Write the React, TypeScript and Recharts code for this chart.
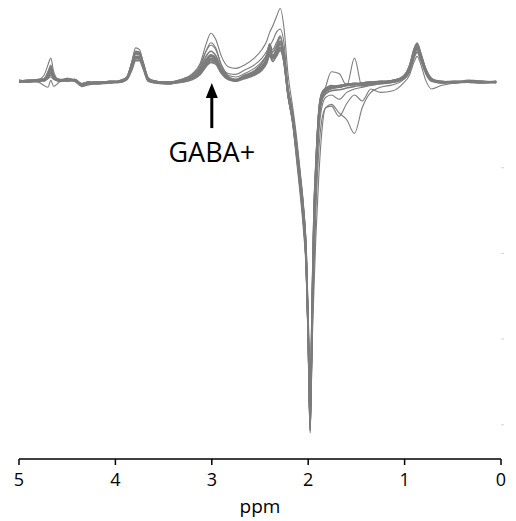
import { LineChart, Line, XAxis, YAxis, ReferenceDot } from 'recharts'

// chemical shift grid (ppm), shared by every spectrum
const PPM = [
  5.0, 4.9, 4.8, 4.74, 4.7, 4.67, 4.64, 4.58, 4.5, 4.42, 4.35, 4.28, 4.18, 4.05, 3.95,
  3.88, 3.83, 3.79, 3.75, 3.71, 3.66, 3.58, 3.45, 3.32, 3.2, 3.12, 3.06, 3.01, 2.96, 2.9,
  2.83, 2.75, 2.66, 2.56, 2.48, 2.43, 2.4, 2.37, 2.33, 2.29, 2.25, 2.21, 2.16, 2.12, 2.08,
  2.05, 2.02, 2.0, 1.98, 1.96, 1.94, 1.92, 1.89, 1.86, 1.82, 1.76, 1.68, 1.6, 1.52, 1.44,
  1.35, 1.25, 1.12, 1.02, 0.95, 0.9, 0.87, 0.83, 0.78, 0.72, 0.62, 0.48, 0.34, 0.2, 0.05,
]

// difference-edited spectra, one per subject (arbitrary units)
const S1 = [
  2, 0, 3, 2, 10, 16, 5, 3, 1, 3, -2, 0, -2, 1, 0,
  4, 17, 33, 32, 17, 2, 1, -2, 2, 6, 14, 26, 32, 28, 12,
  4, 3, 5, 12, 19, 28, 40, 31, 37, 46, 24, -14, -45, -82, -124,
  -160, -212, -295, -398, -270, -155, -98, -35, -14, -8, -4, -6, -2, -3, -1,
  0, -1, 2, 6, 18, 38, 45, 31, 13, 2, 1, -1, 2, 1, -1,
]
const S2 = [
  0, 2, 1, 4, 6, 10, 7, 1, 4, 1, -4, -2, 0, -1, 2,
  6, 20, 29, 28, 20, 4, -1, 0, 0, 4, 11, 21, 27, 24, 15,
  6, 1, 7, 9, 15, 24, 34, 27, 32, 40, 28, -10, -40, -76, -117,
  -150, -203, -282, -405, -283, -165, -106, -41, -18, -10, -7, -4, -4, -1, -3,
  -2, 1, 0, 4, 15, 33, 40, 29, 15, 4, -1, 1, 0, -1, 1,
]
const S3 = [
  1, 2, 2, 2, 9, 14, 8, 2, 2, 3, -3, -2, -1, 0, 0,
  5, 21, 34, 33, 21, 4, 1, -1, 2, 6, 13, 25, 31, 27, 14,
  5, 2, 7, 11, 18, 27, 38, 30, 36, 44, 27, -11, -43, -80, -121,
  -157, -209, -292, -400, -274, -158, -100, -37, -15, -9, -5, -5, -3, -2, -2,
  -1, 0, 1, 5, 17, 36, 43, 30, 14, 3, 0, 0, 1, 0, 0,
]
const S4 = [
  0, 1, 3, 4, 7, 11, 5, 3, 3, 2, -2, 0, -2, 1, 1,
  4, 16, 27, 27, 17, 2, 0, -2, 1, 4, 10, 20, 25, 23, 12,
  4, 2, 5, 9, 16, 25, 35, 28, 33, 41, 25, -13, -44, -81, -122,
  -158, -210, -290, -395, -268, -152, -96, -34, -13, -7, -5, -6, -4, -3, -1,
  0, 0, 2, 5, 14, 32, 38, 28, 13, 3, 1, 0, 0, 1, 0,
]
const S5 = [
  2, 1, 2, 3, 11, 18, 7, 2, 4, 2, -4, -1, 0, 0, 1,
  6, 22, 36, 35, 22, 5, 0, 0, 2, 7, 16, 30, 36, 31, 16,
  6, 3, 8, 13, 22, 32, 44, 35, 42, 52, 30, -8, -38, -74, -115,
  -148, -200, -280, -408, -286, -168, -108, -42, -18, -11, -7, -6, -3, -2, -2,
  -1, 0, 1, 6, 18, 37, 44, 32, 15, 4, 0, 1, 1, 0, 1,
]
const S6 = [
  1, 0, 1, 2, 5, 8, 4, 1, 2, 1, -5, -3, -2, -1, 0,
  3, 14, 25, 25, 15, 1, -1, -2, 0, 3, 9, 18, 23, 21, 10,
  3, 1, 4, 8, 14, 22, 31, 24, 30, 37, 22, -15, -47, -85, -126,
  -162, -215, -298, -390, -262, -150, -95, -40, -22, -14, -10, -9, -7, -5, -4,
  -3, -2, 0, 3, 12, 29, 35, 25, 10, 1, -1, -1, 0, -1, 0,
]
const S7 = [
  1, 2, 2, 3, 8, 12, 6, 2, 3, 3, -3, -1, 0, 0, 1,
  5, 18, 30, 30, 18, 3, 0, -1, 1, 5, 12, 24, 30, 26, 13,
  5, 2, 6, 10, 17, 27, 42, 30, 38, 48, 22, -15, -46, -84, -125,
  -161, -214, -296, -406, -280, -162, -104, -36, -14, -8, -6, -4, -3, -2, -1,
  0, 1, 1, 5, 16, 34, 41, 30, 14, 3, 0, 0, 1, 0, 0,
]
const S8 = [
  1, 2, 3, 8, 20, 28, 12, 2, 3, 2, -2, 0, 0, 1, 1,
  6, 24, 40, 38, 22, 4, 1, 0, 3, 10, 22, 44, 57, 50, 30,
  18, 16, 20, 28, 38, 48, 58, 65, 76, 86, 62, 10, -30, -65, -108,
  -142, -195, -275, -395, -288, -175, -115, -50, -22, -12, -8, -6, -4, -2, -2,
  -1, 0, 2, 6, 20, 40, 46, 34, 16, 4, 0, 0, 1, 0, 0,
]
const S9 = [
  0, 1, 2, 1, 4, 6, 3, 1, 2, 2, -3, -2, -1, 0, 1,
  4, 20, 34, 34, 20, 3, 1, 0, 2, 8, 18, 36, 46, 40, 20,
  10, 9, 14, 20, 28, 36, 42, 48, 58, 62, 44, -5, -38, -72, -112,
  -146, -200, -284, -385, -300, -220, -150, -80, -45, -30, -26, -36, -44, -60, -30,
  -12, -6, -3, 2, 12, 30, 38, 26, 10, 2, -1, 0, 0, 1, 0,
]
const S10 = [
  1, 1, 2, 3, 7, 10, 6, 2, 3, 2, -2, -1, -1, 0, 1,
  5, 18, 29, 29, 18, 3, 0, -1, 1, 5, 12, 22, 28, 25, 13,
  4, 2, 6, 10, 17, 25, 34, 28, 33, 40, 24, -14, -48, -88, -130,
  -165, -220, -300, -392, -290, -190, -130, -50, -20, -6, 12, 10, -4, 28, -6,
  -2, -1, 0, 4, 14, 32, 40, 28, 12, 2, 0, 0, 1, 0, 0,
]
const S11 = [
  0, 1, 0, -4, -6, 2, -5, 0, 2, 1, -4, -2, -1, 0, 1,
  4, 16, 28, 27, 16, 2, 0, -2, 0, 4, 10, 20, 26, 23, 11,
  3, 1, 5, 9, 16, 24, 33, 27, 32, 38, 22, -16, -50, -92, -135,
  -172, -225, -305, -380, -310, -240, -180, -110, -60, -30, -28, -40, -25, -15, -22,
  -8, -12, -10, -2, 8, 24, 30, 20, 2, -8, -4, -1, 0, 0, 0,
]
const S12 = [
  2, 1, 2, 4, 12, 20, 8, 2, 3, 2, -2, 0, -1, 0, 1,
  6, 23, 35, 34, 21, 4, 1, 0, 3, 9, 20, 36, 43, 38, 20,
  8, 6, 10, 16, 24, 33, 45, 38, 46, 54, 34, -6, -36, -70, -110,
  -145, -198, -280, -410, -295, -185, -125, -60, -30, -18, -15, -20, -12, -8, -6,
  -4, -2, 0, 4, 15, 34, 40, 28, 12, 2, 0, 0, 1, 0, 0,
]

const SERIES = [S1, S2, S3, S4, S5, S6, S7, S8, S9, S10, S11, S12]
const X_TICKS = [5, 4, 3, 2, 1, 0]
const Y_TICKS = [-400, -300, -200, -100]

const data = PPM.map((ppm, i) => {
  const row: Record<string, number> = { ppm }
  SERIES.forEach((s, k) => {
    row[`s${k + 1}`] = s[i]
  })
  return row
})

const FONT = '"Open Sans", "DejaVu Sans", sans-serif'

function GabaArrow({ cx, cy }: { cx?: number; cy?: number }) {
  if (cx == null || cy == null) return <g />
  return (
    <g>
      <polygon points={`${cx},${cy + 1} ${cx - 6},${cy + 16} ${cx + 6},${cy + 16}`} fill="#000" />
      <line x1={cx} y1={cy + 14} x2={cx} y2={cy + 46} stroke="#000" strokeWidth={3} />
      <text x={cx} y={cy + 80} textAnchor="middle" fontFamily={FONT} fontSize={27} fill="#000">
        GABA+
      </text>
    </g>
  )
}

export default function App() {
  return (
    <div style={{ position: 'absolute', left: 0, top: 0, background: '#fff' }}>
      <LineChart width={516} height={521} data={data} margin={{ top: 5, right: 0, bottom: 8, left: 19 }}>
        <XAxis
          dataKey="ppm"
          type="number"
          domain={[0, 5]}
          ticks={X_TICKS}
          reversed
          allowDataOverflow
          height={54}
          tickSize={6}
          tickMargin={8}
          axisLine={{ stroke: '#000', strokeWidth: 1.5 }}
          tickLine={{ stroke: '#000', strokeWidth: 1.5 }}
          tick={{ fill: '#000', fontSize: 18, fontFamily: FONT }}
          label={{ value: 'ppm', position: 'insideBottom', offset: 0, fill: '#000', fontSize: 19, fontFamily: FONT }}
        />
        <YAxis
          orientation="right"
          width={15}
          domain={[-440, 90]}
          ticks={Y_TICKS}
          allowDataOverflow
          axisLine={false}
          tickSize={3}
          tickLine={{ stroke: '#d4d4d4' }}
          tick={() => <g />}
        />
        {SERIES.map((_, k) => (
          <Line
            key={k}
            dataKey={`s${k + 1}`}
            type="monotone"
            stroke="#7c7c7c"
            strokeWidth={k < 7 ? 1.6 : 1.1}
            dot={false}
            activeDot={false}
            isAnimationActive={false}
          />
        ))}
        <ReferenceDot x={3.0} y={0} ifOverflow="visible" shape={<GabaArrow />} />
      </LineChart>
    </div>
  )
}
